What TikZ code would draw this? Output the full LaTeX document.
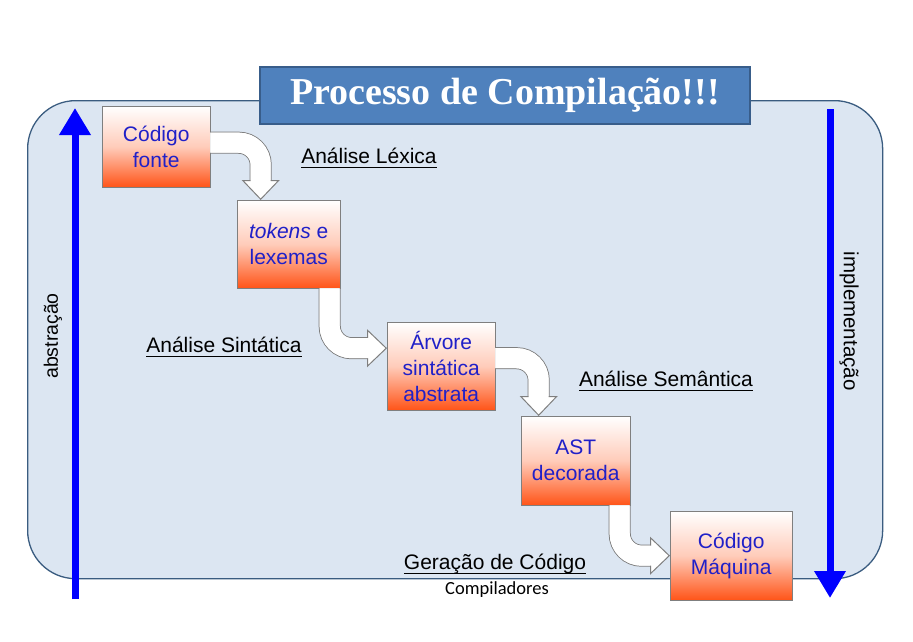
\documentclass[tikz,border=0pt]{standalone}
\usepackage{fontspec}
\setmainfont{Liberation Sans}
\newfontfamily\serifbold{Liberation Serif}
\newfontfamily\rodapefont{Carlito}
\usetikzlibrary{arrows.meta,positioning,calc}
\definecolor{fundo}{HTML}{DCE6F2}
\definecolor{borda}{HTML}{3A5C80}
\definecolor{titazul}{HTML}{4F81BD}
\definecolor{titborda}{HTML}{385D8A}
\definecolor{laranja}{HTML}{FF5418}
\definecolor{tinta}{HTML}{2020C8}
\definecolor{cinza}{HTML}{7F7F7F}
\newcommand{\sublinha}[1]{\setbox0\hbox{#1}\rlap{\rule[-4.5pt]{\wd0}{1.2pt}}\box0}

\begin{document}
\begin{tikzpicture}[x=1pt,y=-1pt,
    quadro/.style={draw=borda,fill=fundo,line width=1.3pt,rounded corners=48pt,
                   minimum width=855pt,minimum height=478pt,anchor=north west},
    titulo/.style={draw=titborda,fill=titazul,line width=1.2pt,
                   minimum width=490pt,minimum height=57pt,text=white,
                   font=\serifbold\bfseries\fontsize{38}{40}\selectfont},
    etapa/.style={draw=cinza,top color=white,bottom color=laranja,
                  middle color=laranja!30!white,align=center,
                  text=tinta,font=\fontsize{21}{26}\selectfont,inner sep=2pt,
                  minimum width=108pt,minimum height=88pt,anchor=north west},
    fase/.style={font=\fontsize{21}{24}\selectfont},
    bloco/.style={line width=20pt,white,rounded corners=22pt,
                  -{Triangle[length=20pt,width=38pt,color=cinza,fill=white,line width=1pt]},
                  preaction={arrows=-,draw=cinza,line width=22pt,shorten >=17pt},
                  postaction={arrows=-,draw=white,line width=20pt,shorten >=17pt}},
    eixo/.style={blue,line width=7pt,-{Triangle[length=27pt,width=30pt]}}]
  \useasboundingbox (0,0) rectangle (913,642);
  \node[quadro] (quadro) at (27,100) {};
  \node[titulo] (titulo) at (505,95.5) {Processo de Compilação!!!};

  % etapas
  \node[etapa,minimum height=81pt] (fonte) at (102,106) {Código\\fonte};
  \node[etapa,minimum width=103pt] (tokens) at (237,200) {\textit{tokens} e\\lexemas};
  \node[etapa] (arvore) at (387,322) {Árvore\\sintática\\abstrata};
  \node[etapa,minimum width=109pt,minimum height=89pt] (ast) at (521,416) {AST\\decorada};
  \node[etapa,minimum width=122pt,minimum height=89pt] (maquina) at (670,511) {Código\\Máquina};

  \draw[bloco] ([yshift=4pt]fonte.east) -| ([xshift=-28pt]tokens.north);
  \draw[bloco] ([xshift=41pt]tokens.south) |- ([yshift=18pt]arvore.west);
  \draw[bloco] ([yshift=8pt]arvore.east) -| ([xshift=-37pt]ast.north);
  \draw[bloco] ([xshift=44pt]ast.south) |- (maquina.west);

  \node[fase] (lexica) at (369,158) {\sublinha{Análise Léxica}};
  \node[fase] (sintatica) at (224,347) {\sublinha{Análise Sintática}};
  \node[fase] (semantica) at (666,381) {\sublinha{Análise Semântica}};
  \node[fase] (geracao) at (495,564) {\sublinha{Geração de Código}};
  \node[font=\rodapefont\fontsize{18.5}{20}\selectfont] (rodape) at (497,590) {Compiladores};

  % eixos laterais
  \coordinate (absBase) at (75,599);
  \coordinate (absTopo) at (75,108);
  \draw[eixo] (absBase) -- (absTopo);
  \coordinate (impTopo) at (830,109);
  \coordinate (impBase) at (830,598);
  \draw[eixo] (impTopo) -- (impBase);
  \node[rotate=90,font=\fontsize{19.5}{22}\selectfont] (abstracao) at (53,336) {abstração};
  \node[rotate=-90,font=\fontsize{20.5}{22}\selectfont] (implementacao) at (849,321) {implementação};
\end{tikzpicture}
\end{document}
